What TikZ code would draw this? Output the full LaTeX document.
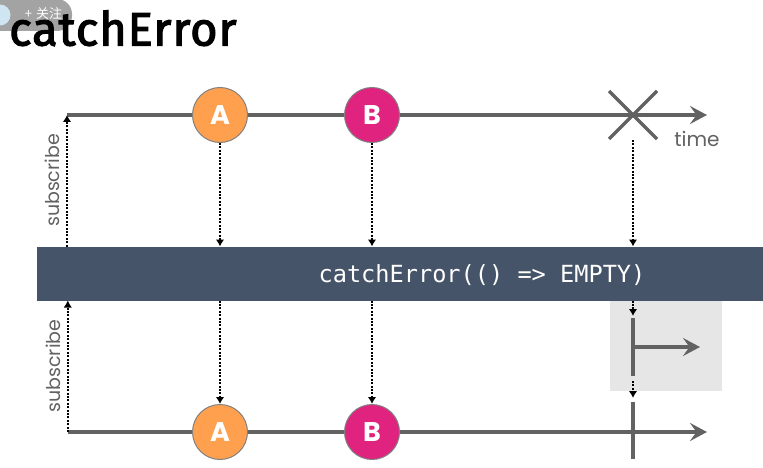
\documentclass[tikz,border=0pt]{standalone}
\usepackage{fontspec}
\setmainfont{Poppins}
\newfontfamily\titlefont[LetterSpace=2,FakeBold=2.5]{Fira Sans}
\newfontfamily\codefont{DejaVu Sans Mono}
\newfontfamily\cjkfont{Noto Sans CJK SC}
\usetikzlibrary{arrows.meta}
\definecolor{linegray}{HTML}{626262}
\definecolor{barblue}{HTML}{455468}
\definecolor{boxgray}{HTML}{E6E6E6}
\definecolor{orangeball}{HTML}{FFA04F}
\definecolor{pinkball}{HTML}{E0237F}
\definecolor{pillgray}{HTML}{A3A3A3}
\definecolor{avatarblue}{HTML}{CFE6F2}
\tikzset{
  timeline/.style={draw=linegray,line width=3.4pt,-{Stealth[length=17pt,width=18pt,inset=6.5pt]}},
  plainline/.style={draw=linegray,line width=3.6pt},
  dotflow/.style={draw=black,line width=2.2pt,dash pattern=on 2pt off 1.4pt,-{Latex[length=7pt,width=8.5pt]}},
  ball/.style={circle,minimum size=55pt,inner sep=0pt,draw=linegray!80!white,line width=1pt,text=white,font=\fontsize{27}{27}\selectfont\bfseries},
  sidelabel/.style={rotate=90,text=linegray,font=\fontsize{19}{19}\selectfont},
}
\begin{document}
\begin{tikzpicture}[x=1pt,y=-1pt]
\useasboundingbox (0,0) rectangle (763,468);
\fill[white] (0,0) rectangle (763,468);
% watermark pill
\fill[pillgray,rounded corners=15pt] (-20,-1) rectangle (72,31);
\fill[avatarblue] (0,15) circle[radius=10.5pt];
\node[anchor=center,inner sep=0pt,text=white,font=\cjkfont\fontsize{13}{13}\selectfont] (follow) at (43.5,14) {+\hspace{4pt}关注};
% title
\node[anchor=base west,inner sep=0pt,font=\titlefont\fontsize{47}{47}\selectfont] (title) at (9,45.5) {catchError};
% grey box
\node[fill=boxgray,minimum width=112pt,minimum height=90pt,inner sep=0pt,anchor=north west] (greybox) at (610,301) {};
% bar
\node[fill=barblue,minimum width=726pt,minimum height=54pt,inner sep=0pt,anchor=north west] (bar) at (37,246.5) {};
\node[anchor=center,inner sep=0pt,text=white,font=\codefont\fontsize{23.6}{23.6}\selectfont] (code) at (482,275) {catchError(() => EMPTY)};
% coordinates
\coordinate (t0) at (67,115);
\coordinate (tend) at (707,115);
\coordinate (b0) at (67.8,432);
\coordinate (bend) at (707,432);
\coordinate (s1) at (67,246.5);
\coordinate (s2) at (67.8,432);
\coordinate (s2t) at (67.8,300.5);
\coordinate (x1) at (609,91);
\coordinate (x2) at (657,139);
\coordinate (x3) at (657,91);
\coordinate (x4) at (609,139);
\coordinate (xd0) at (633,140);
\coordinate (xd1) at (633,246.5);
\coordinate (xd2) at (633,300.5);
\coordinate (xd3) at (633,316);
\coordinate (v1a) at (633,318);
\coordinate (v1b) at (633,376);
\coordinate (h1a) at (633,347);
\coordinate (h1b) at (700,347);
\coordinate (xd4) at (633,381);
\coordinate (xd5) at (633,398);
\coordinate (v2a) at (633,402);
\coordinate (v2b) at (633,459);
% lines
\draw[timeline] (t0) -- (tend);
\draw[timeline] (b0) -- (bend);
\draw[linegray,line width=3.2pt] (x1) -- (x2);
\draw[linegray,line width=3.2pt] (x3) -- (x4);
\draw[plainline] (v1a) -- (v1b);
\draw[timeline] (h1a) -- (h1b);
\draw[plainline] (v2a) -- (v2b);
% balls
\node[ball,fill=orangeball] (a1) at (220,115) {A};
\node[ball,fill=pinkball] (b1) at (372,115) {B};
\node[ball,fill=orangeball] (a2) at (220,432) {A};
\node[ball,fill=pinkball] (b2) at (372,432) {B};
% anchors on bar edge
\coordinate (ba1) at (220,246.5);
\coordinate (bb1) at (372,246.5);
\coordinate (ba2) at (220,300.5);
\coordinate (bb2) at (372,300.5);
% dotted
\draw[dotflow] (s1) -- (t0);
\draw[dotflow] (s2) -- (s2t);
\draw[dotflow] (a1) -- (ba1);
\draw[dotflow] (b1) -- (bb1);
\draw[dotflow] (ba2) -- (a2);
\draw[dotflow] (bb2) -- (b2);
\draw[dotflow] (xd0) -- (xd1);
\draw[dotflow] (xd2) -- (xd3);
\draw[dotflow] (xd4) -- (xd5);
% labels
\node[sidelabel] (sub1) at (52,180.5) {subscribe};
\node[sidelabel] (sub2) at (53,366) {subscribe};
\node[anchor=center,inner sep=0pt,text=linegray,font=\fontsize{20}{20}\selectfont] (time) at (697,139) {time};
\end{tikzpicture}
\end{document}
